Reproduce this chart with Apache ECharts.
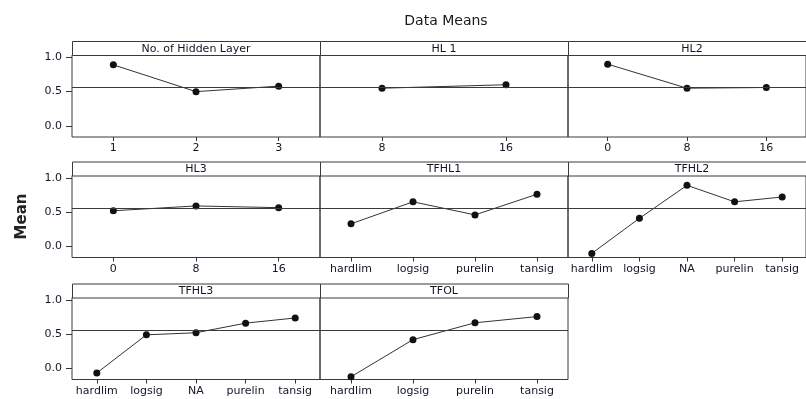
<!DOCTYPE html>
<html>
<head>
<meta charset="utf-8">
<script src="https://cdn.jsdelivr.net/npm/echarts@6/dist/echarts.min.js"></script>
<style>html,body{margin:0;padding:0;background:#fff}#c{width:806px;height:399px}</style>
</head>
<body>
<div id="c"></div>
<script>
// ---- data ----
const chartTitle = 'Data Means';
const yAxisName = 'Mean';
const grandMean = 0.56;
const yTicks = [0, 0.5, 1.0];
const panelTitles = ['No. of Hidden Layer', 'HL 1', 'HL2', 'HL3', 'TFHL1', 'TFHL2', 'TFHL3', 'TFOL'];
const catLayers = ['1', '2', '3'];
const catHL1 = ['8', '16'];
const catHL = ['0', '8', '16'];
const catTF4 = ['hardlim', 'logsig', 'purelin', 'tansig'];
const catTF5 = ['hardlim', 'logsig', 'NA', 'purelin', 'tansig'];
const meanLayers = [0.89, 0.50, 0.58];
const meanHL1 = [0.55, 0.60];
const meanHL2 = [0.90, 0.55, 0.56];
const meanHL3 = [0.52, 0.59, 0.565];
const meanTFHL1 = [0.33, 0.65, 0.46, 0.76];
const meanTFHL2 = [-0.10, 0.41, 0.89, 0.65, 0.72];
const meanTFHL3 = [-0.065, 0.49, 0.52, 0.66, 0.735];
const meanTFOL = [-0.12, 0.42, 0.665, 0.755];

const panelCats = [catLayers, catHL1, catHL, catHL, catTF4, catTF5, catTF5, catTF4];
const panelVals = [meanLayers, meanHL1, meanHL2, meanHL3, meanTFHL1, meanTFHL2, meanTFHL3, meanTFOL];

// ---- layout ----
const LEFT = 72, PW = 248, STRIP = 14, PH = 82;
const ROWTOP = [41, 161.5, 283.5];
const YMIN = -0.16, YMAX = 1.033;
const FONT = 'DejaVu Sans';
const TXT = '#141428';

const grids = [], xAxes = [], yAxes = [], series = [], graphics = [];
panelTitles.forEach((t, i) => {
  const r = Math.floor(i / 3), c = i % 3;
  const left = LEFT + c * PW, top = ROWTOP[r];
  grids.push({left: left, top: top + STRIP, width: PW, height: PH, show: true,
    borderColor: '#3a3a3a', borderWidth: 1, backgroundColor: 'transparent', containLabel: false});
  xAxes.push({type: 'category', gridIndex: i, data: panelCats[i], boundaryGap: true, position: 'bottom',
    axisLine: {show: false, onZero: false},
    axisTick: {show: true, alignWithLabel: true, length: 4, lineStyle: {color: '#333'}},
    axisLabel: {show: true, margin: 6, fontSize: 11, fontFamily: FONT, color: TXT, interval: 0},
    splitLine: {show: false}});
  const isLeft = c === 0;
  yAxes.push({type: 'value', gridIndex: i, min: YMIN, max: YMAX, position: 'left',
    name: (i === 3) ? yAxisName : '', nameLocation: 'middle', nameGap: 42, nameRotate: 90,
    nameTextStyle: {fontSize: 15, fontWeight: 'bold', fontFamily: FONT, color: '#222'},
    axisLine: {show: false, onZero: false},
    axisTick: {show: isLeft, length: 6, customValues: yTicks, lineStyle: {color: '#333'}},
    axisLabel: {show: isLeft, margin: 10, fontSize: 11, fontFamily: FONT, color: TXT, customValues: yTicks,
      formatter: v => v.toFixed(1)},
    splitLine: {show: false}});
  series.push({type: 'line', xAxisIndex: i, yAxisIndex: i, data: panelVals[i],
    symbol: 'circle', symbolSize: 7, itemStyle: {color: '#111'},
    lineStyle: {color: '#333', width: 1}, animation: false,
    markLine: {silent: true, symbol: 'none', label: {show: false},
      lineStyle: {color: '#3a3a3a', width: 1, type: 'solid'}, data: [{yAxis: grandMean}], animation: false}});
  graphics.push({type: 'rect', shape: {x: left + 0.5, y: top + 0.5, width: PW, height: STRIP},
    style: {fill: '#fff', stroke: '#3a3a3a', lineWidth: 1}, z: 10});
  graphics.push({type: 'text', x: left + PW / 2, y: top + STRIP / 2 + 1,
    style: {text: t, fontSize: 11, fontFamily: FONT, fill: TXT, align: 'center', verticalAlign: 'middle'}, z: 11});
});

const chart = echarts.init(document.getElementById('c'), null, {renderer: 'canvas'});
chart.setOption({
  animation: false,
  backgroundColor: '#fff',
  title: {text: chartTitle, left: 441, top: 9, textAlign: 'center',
    textStyle: {fontSize: 14, fontWeight: 'normal', fontFamily: FONT, color: '#1a1a1a'}},
  grid: grids, xAxis: xAxes, yAxis: yAxes, series: series, graphic: graphics
});
</script>
</body>
</html>
